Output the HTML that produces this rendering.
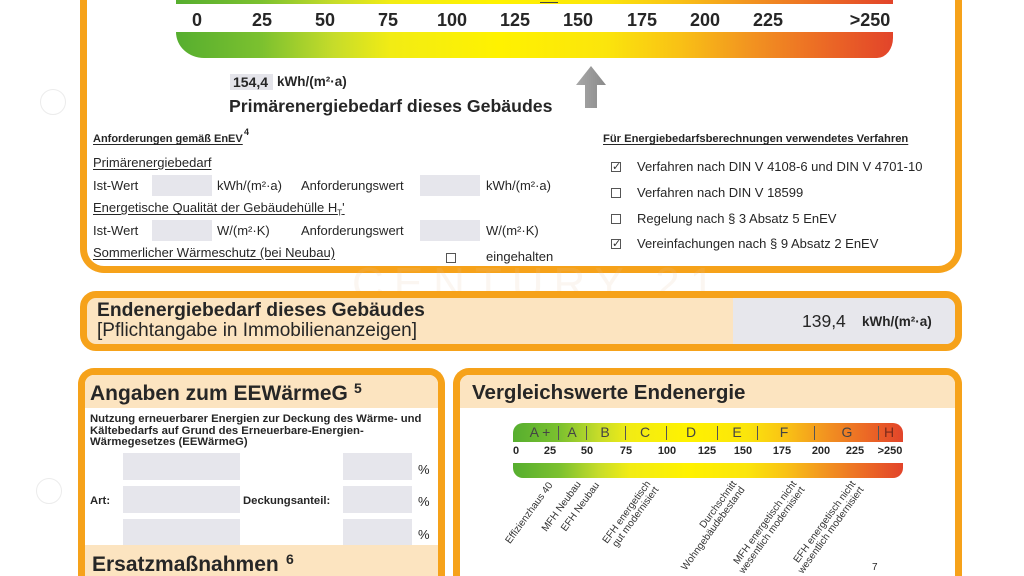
<!DOCTYPE html>
<html><head><meta charset="utf-8">
<style>
*{margin:0;padding:0;box-sizing:border-box}
html,body{width:1024px;height:576px;overflow:hidden;background:#fff}
body{font-family:"Liberation Sans",Arial,sans-serif;color:#262626}
#w{position:relative;width:1024px;height:576px;overflow:hidden}
.a{position:absolute;white-space:nowrap;line-height:1}
.frame{position:absolute;border:7px solid #f6a21a}
.box{position:absolute;background:#e6e6ec}
.num{position:absolute;width:60px;text-align:center;font-weight:bold;line-height:1}
.u{text-decoration:underline;text-underline-offset:2px}
.cb{position:absolute;width:10px;height:10px;border:1px solid #555;background:#fff;font-size:11px;line-height:8px;text-align:center;color:#333}
.rl{position:absolute;width:0;height:0}
.rl span{position:absolute;right:0;top:-5px;white-space:nowrap;transform-origin:100% 50%;transform:rotate(-54deg);font-size:10px;line-height:9.5px;text-align:right;color:#333}
.rl.two span{top:-4px;transform-origin:100% 4px}
.grad{background:linear-gradient(90deg,#56ae2f 0%,#7cc12f 12%,#c6dc2a 22%,#f2ec14 30%,#fff200 45%,#fbe50c 60%,#f9c215 70%,#f29420 80%,#ec6b25 90%,#e2442a 100%)}
</style></head><body><div id="w">

<!-- top frame -->
<div class="frame" style="left:80px;top:0;width:882px;height:273px;border-top:0;border-radius:0 0 24px 24px"></div>

<!-- decor circles -->
<div style="position:absolute;left:40px;top:89px;width:26px;height:26px;border:1px solid #ececec;border-radius:50%"></div>
<div style="position:absolute;left:36px;top:478px;width:26px;height:26px;border:1px solid #ececec;border-radius:50%"></div>

<!-- top strip -->
<div class="grad" style="position:absolute;left:176px;top:0;width:717px;height:4px"></div>
<div style="position:absolute;left:540px;top:0;width:18px;height:3px;border-bottom:1px solid #444"></div>

<!-- top scale numbers -->
<div class="num" style="left:167px;top:11px;font-size:18px">0</div>
<div class="num" style="left:232px;top:11px;font-size:18px">25</div>
<div class="num" style="left:295px;top:11px;font-size:18px">50</div>
<div class="num" style="left:358px;top:11px;font-size:18px">75</div>
<div class="num" style="left:422px;top:11px;font-size:18px">100</div>
<div class="num" style="left:485px;top:11px;font-size:18px">125</div>
<div class="num" style="left:548px;top:11px;font-size:18px">150</div>
<div class="num" style="left:612px;top:11px;font-size:18px">175</div>
<div class="num" style="left:675px;top:11px;font-size:18px">200</div>
<div class="num" style="left:738px;top:11px;font-size:18px">225</div>
<div class="num" style="left:840px;top:11px;font-size:18px">&gt;250</div>

<!-- main gradient bar -->
<div class="grad" style="position:absolute;left:176px;top:32px;width:717px;height:26px;border-radius:0 0 16px 28px / 0 0 20px 26px"></div>

<!-- value -->
<div class="box" style="left:230px;top:74px;width:43px;height:16px;background:#e4e4ea"></div>
<div class="a" style="left:233px;top:75px;font-size:14px;font-weight:bold">154,4</div>
<div class="a" style="left:277px;top:75px;font-size:13.5px;font-weight:bold">kWh/(m²·a)</div>
<div class="a" style="left:229px;top:98px;font-size:17.7px;font-weight:bold">Primärenergiebedarf dieses Gebäudes</div>

<!-- arrow -->
<svg style="position:absolute;left:0;top:0" width="1024" height="576">
<defs><linearGradient id="ag" x1="0" y1="0" x2="1" y2="0"><stop offset="0" stop-color="#a8a8a8"/><stop offset="1" stop-color="#8a8a8a"/></linearGradient></defs>
<polygon points="591,66 606,85 597,85 597,108 585,108 585,85 576,85" fill="url(#ag)"/>
</svg>

<!-- Anforderungen -->
<div class="a u" style="left:93px;top:134px;font-size:11px;font-weight:bold">Anforderungen gemäß EnEV</div>
<div class="a" style="left:244px;top:128px;font-size:9px;font-weight:bold">4</div>
<div class="a u" style="left:93px;top:156px;font-size:13px">Primärenergiebedarf</div>
<div class="a" style="left:93px;top:179px;font-size:13px">Ist-Wert</div>
<div class="box" style="left:152px;top:175px;width:60px;height:21px"></div>
<div class="a" style="left:217px;top:179px;font-size:13px">kWh/(m²·a)</div>
<div class="a" style="left:301px;top:179px;font-size:13px">Anforderungswert</div>
<div class="box" style="left:420px;top:175px;width:60px;height:21px"></div>
<div class="a" style="left:486px;top:179px;font-size:13px">kWh/(m²·a)</div>
<div class="a u" style="left:93px;top:201px;font-size:13px">Energetische Qualität der Gebäudehülle H<sub style="font-size:8px">T</sub>'</div>
<div class="a" style="left:93px;top:224px;font-size:13px">Ist-Wert</div>
<div class="box" style="left:152px;top:220px;width:60px;height:21px"></div>
<div class="a" style="left:217px;top:224px;font-size:13px">W/(m²·K)</div>
<div class="a" style="left:301px;top:224px;font-size:13px">Anforderungswert</div>
<div class="box" style="left:420px;top:220px;width:60px;height:21px"></div>
<div class="a" style="left:486px;top:224px;font-size:13px">W/(m²·K)</div>
<div class="a u" style="left:93px;top:246px;font-size:13px">Sommerlicher Wärmeschutz (bei Neubau)</div>
<div class="cb" style="left:446px;top:253px"></div>
<div class="a" style="left:486px;top:250px;font-size:13px">eingehalten</div>

<!-- Verfahren -->
<div class="a u" style="left:603px;top:134px;font-size:11.2px;font-weight:bold">Für Energiebedarfsberechnungen verwendetes Verfahren</div>
<div class="cb" style="left:611px;top:162px">✓</div>
<div class="a" style="left:637px;top:160px;font-size:13px">Verfahren nach DIN V 4108-6 und DIN V 4701-10</div>
<div class="cb" style="left:611px;top:188px"></div>
<div class="a" style="left:637px;top:186px;font-size:13px">Verfahren nach DIN V 18599</div>
<div class="cb" style="left:611px;top:214px"></div>
<div class="a" style="left:637px;top:212px;font-size:13px">Regelung nach § 3 Absatz 5 EnEV</div>
<div class="cb" style="left:611px;top:239px">✓</div>
<div class="a" style="left:637px;top:237px;font-size:13px">Vereinfachungen nach § 9 Absatz 2 EnEV</div>

<!-- watermark -->
<div class="a" style="left:352px;top:262px;font-size:44px;letter-spacing:10px;color:rgba(225,195,160,0.15)">CENTURY 21</div>

<!-- Endenergie box -->
<div class="frame" style="left:80px;top:291px;width:882px;height:60px;border-radius:16px;background:#fce4c0;overflow:hidden">
  <div style="position:absolute;left:646px;top:0;width:230px;height:46px;background:#e7e7ec"></div>
</div>
<div class="a" style="left:97px;top:301px;font-size:19.3px;font-weight:bold">Endenergiebedarf dieses Gebäudes</div>
<div class="a" style="left:97px;top:321px;font-size:19px">[Pflichtangabe in Immobilienanzeigen]</div>
<div class="a" style="left:802px;top:313px;font-size:17.5px">139,4</div>
<div class="a" style="left:862px;top:315px;font-size:13.5px;font-weight:bold">kWh/(m²·a)</div>

<!-- Left box -->
<div class="frame" style="left:78px;top:368px;width:367px;height:208px;border-bottom:0;border-radius:16px 16px 0 0;overflow:hidden;background:#fff">
  <div style="position:absolute;left:0;top:0;width:100%;height:33px;background:#fce4c0"></div>
  <div style="position:absolute;left:0;top:170px;width:100%;height:31px;background:#fce4c0"></div>
</div>
<div class="a" style="left:90px;top:383px;font-size:21px;font-weight:bold">Angaben zum EEWärmeG</div>
<div class="a" style="left:354px;top:381px;font-size:14px;font-weight:bold">5</div>
<div class="a" style="left:90px;top:414px;font-size:11.3px;font-weight:bold;line-height:11.5px">Nutzung erneuerbarer Energien zur Deckung des Wärme- und<br>Kältebedarfs auf Grund des Erneuerbare-Energien-<br>Wärmegesetzes (EEWärmeG)</div>
<div class="box" style="left:123px;top:453px;width:117px;height:27px"></div>
<div class="box" style="left:123px;top:486px;width:117px;height:27px"></div>
<div class="box" style="left:123px;top:519px;width:117px;height:26px"></div>
<div class="box" style="left:343px;top:453px;width:69px;height:27px"></div>
<div class="box" style="left:343px;top:486px;width:69px;height:27px"></div>
<div class="box" style="left:343px;top:519px;width:69px;height:26px"></div>
<div class="a" style="left:418px;top:463px;font-size:13px">%</div>
<div class="a" style="left:418px;top:495px;font-size:13px">%</div>
<div class="a" style="left:418px;top:528px;font-size:13px">%</div>
<div class="a" style="left:90px;top:496px;font-size:11.3px;font-weight:bold">Art:</div>
<div class="a" style="left:243px;top:496px;font-size:11.3px;font-weight:bold">Deckungsanteil:</div>
<div class="a" style="left:92px;top:554px;font-size:21px;font-weight:bold">Ersatzmaßnahmen</div>
<div class="a" style="left:286px;top:552px;font-size:14px;font-weight:bold">6</div>

<!-- Right box -->
<div class="frame" style="left:453px;top:368px;width:509px;height:208px;border-bottom:0;border-radius:16px 16px 0 0;overflow:hidden;background:#fff">
  <div style="position:absolute;left:0;top:0;width:100%;height:33px;background:#fce4c0"></div>
</div>
<div class="a" style="left:472px;top:383px;font-size:20.5px;font-weight:bold">Vergleichswerte Endenergie</div>

<div class="grad" style="position:absolute;left:513px;top:423px;width:390px;height:19px;border-radius:10px 10px 0 0"></div>
<div style="position:absolute;left:558px;top:426px;width:1px;height:14px;background:#555"></div>
<div style="position:absolute;left:586px;top:426px;width:1px;height:14px;background:#555"></div>
<div style="position:absolute;left:625px;top:426px;width:1px;height:14px;background:#555"></div>
<div style="position:absolute;left:666px;top:426px;width:1px;height:14px;background:#555"></div>
<div style="position:absolute;left:717px;top:426px;width:1px;height:14px;background:#555"></div>
<div style="position:absolute;left:757px;top:426px;width:1px;height:14px;background:#555"></div>
<div style="position:absolute;left:814px;top:426px;width:1px;height:14px;background:#555"></div>
<div style="position:absolute;left:878px;top:426px;width:1px;height:14px;background:#555"></div>
<div class="num" style="left:510px;top:425px;font-size:14px;font-weight:normal;color:#444">A +</div>
<div class="num" style="left:542px;top:425px;font-size:14px;font-weight:normal;color:#444">A</div>
<div class="num" style="left:575px;top:425px;font-size:14px;font-weight:normal;color:#444">B</div>
<div class="num" style="left:615px;top:425px;font-size:14px;font-weight:normal;color:#444">C</div>
<div class="num" style="left:661px;top:425px;font-size:14px;font-weight:normal;color:#444">D</div>
<div class="num" style="left:707px;top:425px;font-size:14px;font-weight:normal;color:#444">E</div>
<div class="num" style="left:754px;top:425px;font-size:14px;font-weight:normal;color:#444">F</div>
<div class="num" style="left:817px;top:425px;font-size:14px;font-weight:normal;color:#444">G</div>
<div class="num" style="left:859px;top:425px;font-size:14px;font-weight:normal;color:#7a2a1a">H</div>

<div class="num" style="left:486px;top:446px;font-size:11px">0</div>
<div class="num" style="left:520px;top:446px;font-size:11px">25</div>
<div class="num" style="left:557px;top:446px;font-size:11px">50</div>
<div class="num" style="left:596px;top:446px;font-size:11px">75</div>
<div class="num" style="left:637px;top:446px;font-size:11px">100</div>
<div class="num" style="left:677px;top:446px;font-size:11px">125</div>
<div class="num" style="left:713px;top:446px;font-size:11px">150</div>
<div class="num" style="left:752px;top:446px;font-size:11px">175</div>
<div class="num" style="left:791px;top:446px;font-size:11px">200</div>
<div class="num" style="left:825px;top:446px;font-size:11px">225</div>
<div class="num" style="left:860px;top:446px;font-size:11px">&gt;250</div>

<div class="grad" style="position:absolute;left:513px;top:463px;width:390px;height:15px;border-radius:0 0 10px 10px"></div>

<div class="rl" style="left:551px;top:484px"><span>Effizienzhaus 40</span></div>
<div class="rl" style="left:579px;top:483px"><span>MFH Neubau</span></div>
<div class="rl" style="left:598px;top:484px"><span>EFH Neubau</span></div>
<div class="rl two" style="left:648px;top:482px"><span>EFH energetisch<br>gut modernisiert</span></div>
<div class="rl two" style="left:734px;top:482px"><span>Durchschnitt<br>Wohngebäudebestand</span></div>
<div class="rl two" style="left:794px;top:482px"><span>MFH energetisch nicht<br>wesentlich modernisiert</span></div>
<div class="rl two" style="left:853px;top:482px"><span>EFH energetisch nicht<br>wesentlich modernisiert</span></div>
<div class="a" style="left:872px;top:563px;font-size:10px">7</div>

</div></body></html>
